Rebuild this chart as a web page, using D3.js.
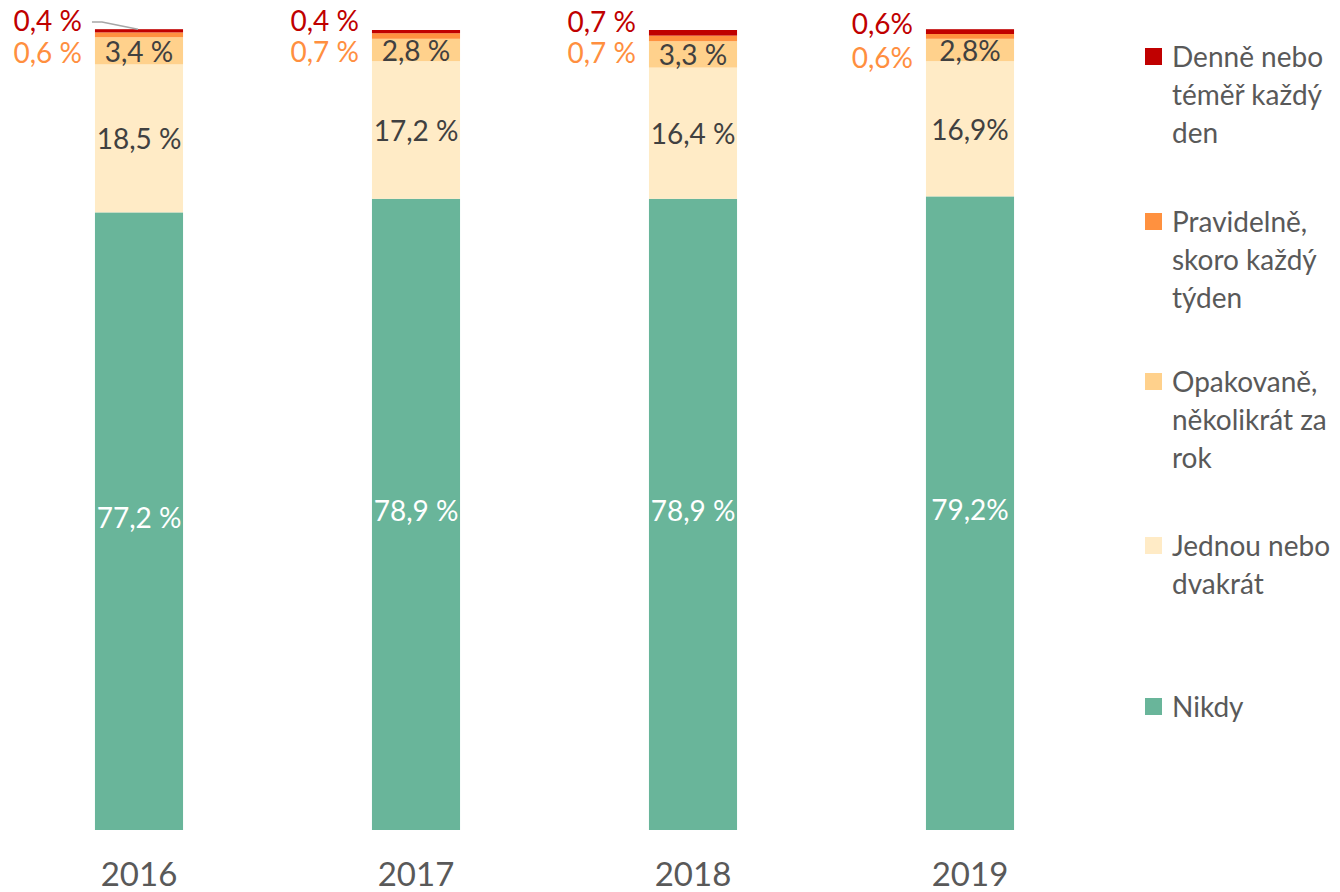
<!DOCTYPE html>
<html>
<head>
<meta charset="utf-8">
<script src="https://cdn.jsdelivr.net/npm/d3@7"></script>
<style>
  html, body { margin: 0; padding: 0; background: #fff; }
  svg { display: block; font-family: Lato, "Open Sans", sans-serif; }
</style>
</head>
<body>
<svg id="chart" width="1340" height="892"></svg>
<script>
// Years on the x axis
var years = ["2016", "2017", "2018", "2019"];

// Series, bottom to top of the stack (percent)
var nikdy      = [77.2, 78.9, 78.9, 79.2];
var jednou     = [18.5, 17.2, 16.4, 16.9];
var opakovane  = [3.4, 2.8, 3.3, 2.8];
var pravidelne = [0.6, 0.7, 0.7, 0.6];
var denne      = [0.4, 0.4, 0.7, 0.6];

// Data labels as printed (2019 labels have no space before %)
var nikdyLabels      = ["77,2 %", "78,9 %", "78,9 %", "79,2%"];
var jednouLabels     = ["18,5 %", "17,2 %", "16,4 %", "16,9%"];
var opakovaneLabels  = ["3,4 %", "2,8 %", "3,3 %", "2,8%"];
var pravidelneLabels = ["0,6 %", "0,7 %", "0,7 %", "0,6%"];
var denneLabels      = ["0,4 %", "0,4 %", "0,7 %", "0,6%"];

// legend text, line broken the way the original wraps it
var legendLines = [
  ["Denně nebo", "téměř každý", "den"],
  ["Pravidelně,", "skoro každý", "týden"],
  ["Opakovaně,", "několikrát za", "rok"],
  ["Jednou nebo", "dvakrát"],
  ["Nikdy"]
];

var colors = ["#69B59A", "#FFEBC6", "#FFD18C", "#FF913F", "#C00000"];
var labelColors = ["#ffffff", "#404040", "#404040", "#FF8F3F", "#C00000"];

var svg = d3.select("#chart");

var x = d3.scaleBand()
  .domain(years)
  .range([0.5, 1108.5])
  .paddingInner(0.682)
  .paddingOuter(0.341);

var y = d3.scaleLinear()
  .domain([0, 100])
  .range([830, 30]);

// build rows for d3.stack
var keys = ["nikdy", "jednou", "opakovane", "pravidelne", "denne"];
var rows = years.map(function(yr, i) {
  return { year: yr, nikdy: nikdy[i], jednou: jednou[i], opakovane: opakovane[i],
           pravidelne: pravidelne[i], denne: denne[i] };
});
var labelSets = [nikdyLabels, jednouLabels, opakovaneLabels, pravidelneLabels, denneLabels];

var stacked = d3.stack().keys(keys)(rows);

var layers = svg.append("g").attr("class", "bars")
  .selectAll("g")
  .data(stacked)
  .enter()
  .append("g")
  .attr("fill", function(d, i) { return colors[i]; });

layers.selectAll("rect")
  .data(function(d) { return d; })
  .enter()
  .append("rect")
  .attr("x", function(d) { return x(d.data.year); })
  .attr("width", x.bandwidth())
  .attr("y", function(d) { return y(d[1]); })
  .attr("height", function(d) { return y(d[0]) - y(d[1]); });

// labels inside the three big segments
var labelG = svg.append("g").attr("class", "labels")
  .attr("font-size", 28);

[0, 1, 2].forEach(function(s) {
  labelG.selectAll("text.s" + s)
    .data(stacked[s])
    .enter()
    .append("text")
    .attr("class", "s" + s)
    .attr("x", function(d) { return x(d.data.year) + x.bandwidth() / 2; })
    .attr("y", function(d) { return (y(d[0]) + y(d[1])) / 2 + (s == 0 ? 7 : 11); })
    .attr("text-anchor", "middle")
    .attr("fill", labelColors[s])
    .text(function(d, i) { return labelSets[s][i]; });
});

// the two thin segments get labels left of the bar
var outsideDy = { 3: [63, 62, 63, 68], 4: [31, 31, 32, 34] };
[3, 4].forEach(function(s) {
  labelG.selectAll("text.s" + s)
    .data(stacked[s])
    .enter()
    .append("text")
    .attr("class", "s" + s)
    .attr("x", function(d) { return x(d.data.year) - 13; })
    .attr("y", function(d, i) { return outsideDy[s][i]; })
    .attr("text-anchor", "end")
    .attr("fill", labelColors[s])
    .text(function(d, i) { return labelSets[s][i]; });
});

// leader line for the 2016 daily label
var d16 = stacked[4][0];
svg.append("polyline")
  .attr("points", [
      [x("2016") - 3, 22], [x("2016") + 7, 22],
      [x("2016") + x.bandwidth() / 2 - 1, y(d16[1]) ]
    ].map(function(p) { return p.join(","); }).join(" "))
  .attr("fill", "none")
  .attr("stroke", "#A6A6A6")
  .attr("stroke-width", 1.5);

// x axis labels (no line)
svg.append("g").attr("class", "xaxis")
  .selectAll("text")
  .data(years)
  .enter()
  .append("text")
  .attr("x", function(d) { return x(d) + x.bandwidth() / 2; })
  .attr("y", 886)
  .attr("text-anchor", "middle")
  .attr("font-size", 33)
  .attr("fill", "#595959")
  .text(function(d) { return d; });

// legend, top item = top of stack
var legendY = [67, 232, 392, 556, 717];
var legend = svg.append("g").attr("class", "legend")
  .attr("font-size", 28)
  .attr("fill", "#595959");

legendLines.forEach(function(lines, i) {
  var g = legend.append("g").attr("transform", "translate(1145," + legendY[i] + ")");
  g.append("rect")
    .attr("x", 0).attr("y", -19)
    .attr("width", 17).attr("height", 17)
    .attr("fill", colors[4 - i]);
  var t = g.append("text").attr("x", 27).attr("y", 0);
  lines.forEach(function(line, j) {
    t.append("tspan").attr("x", 27).attr("y", j * 38).text(line);
  });
});
</script>
</body>
</html>
